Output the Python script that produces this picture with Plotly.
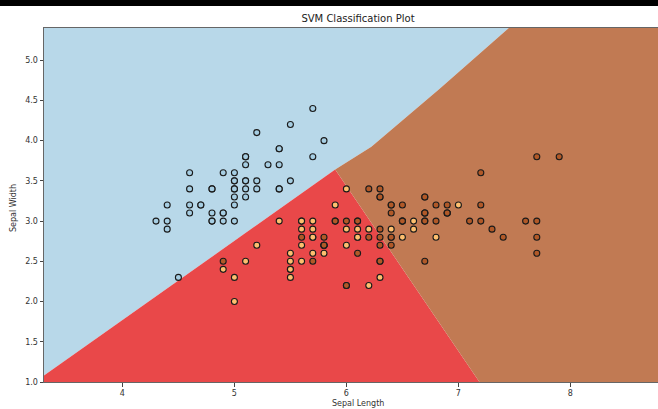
import plotly.graph_objects as go

# Iris sepal measurements (length, width) per class
setosa_len = [5.1, 4.9, 4.7, 4.6, 5.0, 5.4, 4.6, 5.0, 4.4, 4.9, 5.4, 4.8, 4.8, 4.3, 5.8, 5.7, 5.4, 5.1, 5.7, 5.1,
              5.4, 5.1, 4.6, 5.1, 4.8, 5.0, 5.0, 5.2, 5.2, 4.7, 4.8, 5.4, 5.2, 5.5, 4.9, 5.0, 5.5, 4.9, 4.4, 5.1,
              5.0, 4.5, 4.4, 5.0, 5.1, 4.8, 5.1, 4.6, 5.3, 5.0]
setosa_wid = [3.5, 3.0, 3.2, 3.1, 3.6, 3.9, 3.4, 3.4, 2.9, 3.1, 3.7, 3.4, 3.0, 3.0, 4.0, 4.4, 3.9, 3.5, 3.8, 3.8,
              3.4, 3.7, 3.6, 3.3, 3.4, 3.0, 3.4, 3.5, 3.4, 3.2, 3.1, 3.4, 4.1, 4.2, 3.1, 3.2, 3.5, 3.6, 3.0, 3.4,
              3.5, 2.3, 3.2, 3.5, 3.8, 3.0, 3.8, 3.2, 3.7, 3.3]
versicolor_len = [7.0, 6.4, 6.9, 5.5, 6.5, 5.7, 6.3, 4.9, 6.6, 5.2, 5.0, 5.9, 6.0, 6.1, 5.6, 6.7, 5.6, 5.8, 6.2, 5.6,
                  5.9, 6.1, 6.3, 6.1, 6.4, 6.6, 6.8, 6.7, 6.0, 5.7, 5.5, 5.5, 5.8, 6.0, 5.4, 6.0, 6.7, 6.3, 5.6, 5.5,
                  5.5, 6.1, 5.8, 5.0, 5.6, 5.7, 5.7, 6.2, 5.1, 5.7]
versicolor_wid = [3.2, 3.2, 3.1, 2.3, 2.8, 2.8, 3.3, 2.4, 2.9, 2.7, 2.0, 3.0, 2.2, 2.9, 2.9, 3.1, 3.0, 2.7, 2.2, 2.5,
                  3.2, 2.8, 2.5, 2.8, 2.9, 3.0, 2.8, 3.0, 2.9, 2.6, 2.4, 2.4, 2.7, 2.7, 3.0, 3.4, 3.1, 2.3, 3.0, 2.5,
                  2.6, 3.0, 2.6, 2.3, 2.7, 3.0, 2.9, 2.9, 2.5, 2.8]
virginica_len = [6.3, 5.8, 7.1, 6.3, 6.5, 7.6, 4.9, 7.3, 6.7, 7.2, 6.5, 6.4, 6.8, 5.7, 5.8, 6.4, 6.5, 7.7, 7.7, 6.0,
                 6.9, 5.6, 7.7, 6.3, 6.7, 7.2, 6.2, 6.1, 6.4, 7.2, 7.4, 7.9, 6.4, 6.3, 6.1, 7.7, 6.3, 6.4, 6.0, 6.9,
                 6.7, 6.9, 5.8, 6.8, 6.7, 6.7, 6.3, 6.5, 6.2, 5.9]
virginica_wid = [3.3, 2.7, 3.0, 2.9, 3.0, 3.0, 2.5, 2.9, 2.5, 3.6, 3.2, 2.7, 3.0, 2.5, 2.8, 3.2, 3.0, 3.8, 2.6, 2.2,
                 3.2, 2.8, 2.8, 2.7, 3.3, 3.2, 2.8, 3.0, 2.8, 3.0, 2.8, 3.8, 2.8, 2.8, 2.6, 3.0, 3.4, 3.1, 3.0, 3.1,
                 3.1, 3.1, 2.7, 3.2, 3.3, 3.0, 2.5, 3.0, 3.4, 3.0]

# Decision regions (data coordinates of region outlines)
blue_region_x = [3.3, 5.90, 6.223, 6.83, 7.45, 3.3]
blue_region_y = [1.08, 3.64, 3.923, 4.641, 5.4, 5.4]
red_region_x = [3.3, 3.3, 5.90, 7.188]
red_region_y = [1.0, 1.08, 3.64, 1.0]
brown_region_x = [5.90, 6.223, 6.83, 7.45, 8.9, 8.9, 7.188]
brown_region_y = [3.64, 3.923, 4.641, 5.4, 5.4, 1.0, 1.0]

x_ticks = [4, 5, 6, 7, 8]
y_ticks = [1.0, 1.5, 2.0, 2.5, 3.0, 3.5, 4.0, 4.5, 5.0]
y_ticktext = ["1.0", "1.5", "2.0", "2.5", "3.0", "3.5", "4.0", "4.5", "5.0"]

FONT = "DejaVu Sans"
fig = go.Figure()

for rx, ry, col in [(blue_region_x, blue_region_y, "#b8d8e9"),
                    (red_region_x, red_region_y, "#e94849"),
                    (brown_region_x, brown_region_y, "#c17a53")]:
    fig.add_trace(go.Scatter(x=rx, y=ry, mode="lines", fill="toself", fillcolor=col,
                             line=dict(width=0, color=col), hoverinfo="skip"))

for xs, ys, col in [(setosa_len, setosa_wid, "#a6cee3"),
                    (versicolor_len, versicolor_wid, "#fdbf6f"),
                    (virginica_len, virginica_wid, "#b15928")]:
    fig.add_trace(go.Scatter(x=xs, y=ys, mode="markers", hoverinfo="skip",
                             marker=dict(size=6, color=col, line=dict(width=1.1, color="#1a1a1a"))))

fig.update_layout(
    width=658, height=409,
    margin=dict(l=44, r=0, t=28, b=27, autoexpand=False),
    paper_bgcolor="white", plot_bgcolor="white",
    showlegend=False,
    font=dict(family=FONT, size=8, color="#333"),
    title=dict(text="SVM Classification Plot", x=358 / 658, xref="container", xanchor="center",
               y=1 - 18 / 409, yref="container", yanchor="middle",
               font=dict(family=FONT, size=10, color="#222")),
    xaxis=dict(range=[3.3, 3.3 + 614 / 112], tickvals=x_ticks, ticks="outside", ticklen=3.5,
               tickwidth=0.8, tickcolor="#444", showline=True, linecolor="#666", linewidth=1,
               mirror=True, showgrid=False, zeroline=False,
               tickfont=dict(family=FONT, size=8, color="#333")),
    yaxis=dict(range=[1.0, 5.4], tickvals=y_ticks, ticktext=y_ticktext, ticks="outside", ticklen=3.5,
               tickwidth=0.8, tickcolor="#444", showline=True, linecolor="#666", linewidth=1,
               showgrid=False, zeroline=False,
               tickfont=dict(family=FONT, size=8, color="#333")),
    annotations=[
        dict(text="Sepal Length", xref="paper", yref="paper", x=(358 - 44) / 614, y=(382 - 403) / 354,
             xanchor="center", yanchor="middle", showarrow=False,
             font=dict(family=FONT, size=8, color="#333")),
        dict(text="Sepal Width", xref="paper", yref="paper", x=(13 - 44) / 614, y=(382 - 208) / 354,
             xanchor="center", yanchor="middle", showarrow=False, textangle=-90,
             font=dict(family=FONT, size=8, color="#333")),
    ],
    shapes=[dict(type="rect", xref="paper", yref="paper", x0=-44 / 614, x1=1.0,
                 y0=1 + (28 - 6) / 354, y1=1 + 28 / 354, fillcolor="black", line=dict(width=0),
                 layer="above")],
)

fig.write_html("out.html", config={"displayModeBar": False},
               post_script="document.body.style.margin='0';document.body.style.overflow='hidden';")
